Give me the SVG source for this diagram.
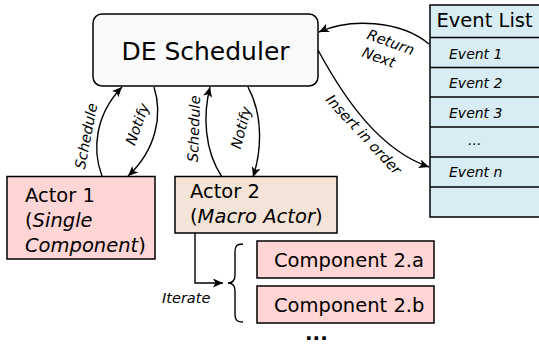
<svg xmlns="http://www.w3.org/2000/svg" width="539" height="345" viewBox="0 0 539 345">
<style>
  text { font-family: "DejaVu Sans", sans-serif; fill: #000; }
  .box { stroke: #000; stroke-width: 1.5; }
  .big { font-size: 25px; }
  .mid { font-size: 19.5px; }
  .lbl { font-size: 14.5px; font-style: italic; }
  .ev { font-size: 14px; font-style: italic; }
  .it { font-style: italic; }
  .con { fill: none; stroke: #000; stroke-width: 1.4; }
</style>
<defs>
  <marker id="ah" markerUnits="userSpaceOnUse" markerWidth="12" markerHeight="10" refX="10" refY="4.5" orient="auto">
    <path d="M0,0 L10,4.5 L0,9 L2.5,4.5 Z" fill="#000"/>
  </marker>
</defs>

<g id="scheduler">
  <rect class="box" x="93" y="14" width="225" height="72" rx="9" fill="#f9f9f9"/>
  <text class="big" x="205.5" y="60" text-anchor="middle">DE Scheduler</text>
</g>

<g id="event-list">
  <rect class="box" x="430" y="5" width="115" height="212" fill="#d7ecf3"/>
  <line class="box" x1="430" y1="37.5" x2="545" y2="37.5"/>
  <line class="box" x1="430" y1="67.5" x2="545" y2="67.5"/>
  <line class="box" x1="430" y1="97" x2="545" y2="97"/>
  <line class="box" x1="430" y1="127" x2="545" y2="127"/>
  <line class="box" x1="430" y1="157" x2="545" y2="157"/>
  <line class="box" x1="430" y1="187" x2="545" y2="187"/>
  <text class="mid" x="436.5" y="27">Event List</text>
  <text class="ev" x="449" y="58.5">Event 1</text>
  <text class="ev" x="449" y="88">Event 2</text>
  <text class="ev" x="449" y="117.5">Event 3</text>
  <text class="ev" x="468" y="145">...</text>
  <text class="ev" x="449" y="177">Event n</text>
</g>

<g id="actor1">
  <rect class="box" x="7" y="176.5" width="148" height="82.5" fill="#ffd5d5"/>
  <text class="mid" x="25" y="202">Actor 1</text>
  <text class="mid" x="25" y="227">(<tspan class="it">Single</tspan></text>
  <text class="mid" x="25" y="252"><tspan class="it">Component</tspan>)</text>
</g>

<g id="actor2">
  <rect class="box" x="175" y="176.5" width="162" height="56.5" fill="#f4e3d7"/>
  <text class="mid" x="190" y="198">Actor 2</text>
  <text class="mid" x="190" y="223">(<tspan class="it">Macro Actor</tspan>)</text>
</g>

<g id="component-2a">
  <rect class="box" x="257" y="241" width="177" height="37" fill="#ffd5d5"/>
  <text class="mid" x="274" y="267">Component 2.a</text>
</g>

<g id="component-2b">
  <rect class="box" x="257" y="286" width="177" height="37" fill="#ffd5d5"/>
  <text class="mid" x="274" y="312">Component 2.b</text>
</g>

<g id="more">
  <text x="305" y="340" style="font-size:20px; font-weight:bold;">...</text>
</g>

<g id="connectors">
  <path class="con" d="M102,176 C92,150 95,115 122,87" marker-end="url(#ah)"/>
  <path class="con" d="M154,87 C163,115 156,150 128,176" marker-end="url(#ah)"/>
  <path class="con" d="M222,177 C204,150 203,115 210,87" marker-end="url(#ah)"/>
  <path class="con" d="M248,87 C263,115 262,150 253,177" marker-end="url(#ah)"/>
  <path class="con" d="M429,44 C400,20 350,18 319,32" marker-end="url(#ah)"/>
  <path class="con" d="M318,50 C345,100 380,150 429,167" marker-end="url(#ah)"/>
  <path class="con" d="M195,233 L195,283 L223,283" marker-end="url(#ah)"/>
  <path class="con" d="M243,244 C236,244 235,247 235,252 L235,275 C235,280 233,283 228,283 C233,283 235,286 235,291 L235,314 C235,319 236,322 243,322"/>
  <text class="lbl" transform="translate(91,137) rotate(-79)" text-anchor="middle">Schedule</text>
  <text class="lbl" transform="translate(142,126) rotate(-70)" text-anchor="middle">Notify</text>
  <text class="lbl" transform="translate(199,129) rotate(-88)" text-anchor="middle">Schedule</text>
  <text class="lbl" transform="translate(246,129) rotate(-75)" text-anchor="middle">Notify</text>
  <text class="lbl" transform="translate(389,47) rotate(20)" text-anchor="middle">Return</text>
  <text class="lbl" transform="translate(377,62) rotate(20)" text-anchor="middle">Next</text>
  <text class="lbl" transform="translate(360,138) rotate(47)" text-anchor="middle">Insert in order</text>
  <text class="lbl" x="162" y="303">Iterate</text>
</g>
</svg>
